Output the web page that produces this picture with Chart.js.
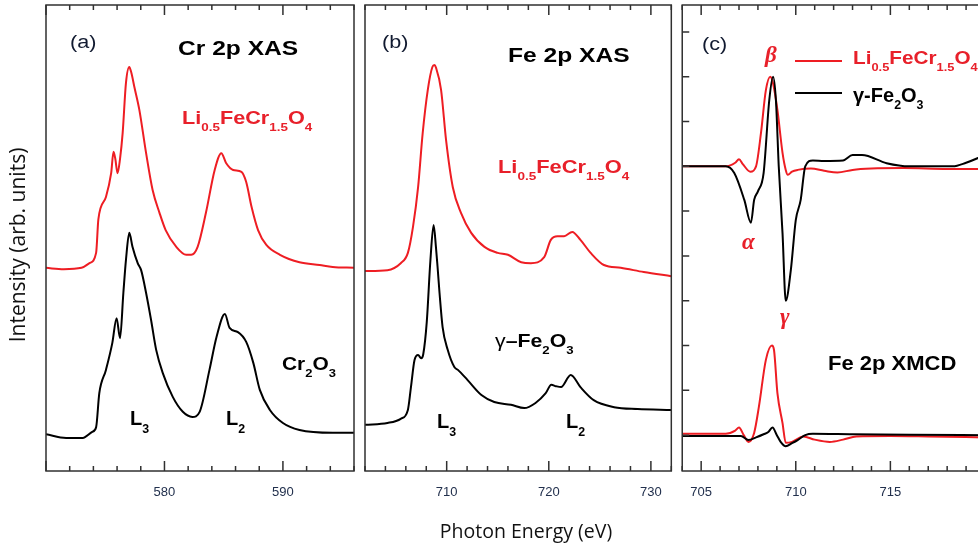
<!DOCTYPE html>
<html><head><meta charset="utf-8">
<script src="https://cdn.jsdelivr.net/npm/chart.js@4.4.0/dist/chart.umd.min.js"></script>
<style>
html,body{margin:0;padding:0;background:#fff;}
#wrap{position:relative;width:978px;height:547px;overflow:hidden;background:#fff;}
canvas{position:absolute;top:0;display:block;}
.t{position:absolute;line-height:1;white-space:nowrap;font-family:"Liberation Sans",Arial,sans-serif;transform-origin:0 0;color:#000;}
.b{font-weight:bold;}
.s{font-size:0.62em;position:relative;top:0.62em;}
.red{color:#e8202a;}
.g{font-family:"Liberation Serif","DejaVu Serif",serif;font-style:italic;font-weight:bold;}
.lab{color:#111a30;}
.ttl{position:absolute;font-family:"Open Sans",sans-serif;line-height:24px;height:24px;text-align:center;color:#111;white-space:nowrap;}
.leg{position:absolute;height:2px;}
</style></head>
<body><div id="wrap">
<canvas id="ca" width="360" height="547" style="left:0px"></canvas>
<canvas id="cb" width="316" height="547" style="left:360px"></canvas>
<canvas id="cc" width="324" height="547" style="left:676px"></canvas>

<div class="ttl" style="left:326px;top:519px;width:400px;font-size:19.5px;">Photon Energy (eV)</div>
<div class="ttl" style="left:-133px;top:233px;width:300px;font-size:21px;transform:rotate(-90deg);">Intensity (arb. units)</div>

<!-- panel (a) -->
<div class="t lab" style="left:70px;top:33px;font-size:18px;transform:scaleX(1.2);">(a)</div>
<div class="t b" style="left:178px;top:37.2px;font-size:21px;transform:scaleX(1.17);">Cr 2p XAS</div>
<div class="t b red" style="left:182px;top:107.9px;font-size:19px;transform:scaleX(1.14);">Li<span class="s">0.5</span>FeCr<span class="s">1.5</span>O<span class="s">4</span></div>
<div class="t b" style="left:282px;top:353.9px;font-size:19px;transform:scaleX(1.1);">Cr<span class="s">2</span>O<span class="s">3</span></div>
<div class="t b" style="left:130px;top:408.1px;font-size:20px;">L<span class="s">3</span></div>
<div class="t b" style="left:226px;top:408.1px;font-size:20px;">L<span class="s">2</span></div>

<!-- panel (b) -->
<div class="t lab" style="left:382px;top:33px;font-size:18px;transform:scaleX(1.2);">(b)</div>
<div class="t b" style="left:508px;top:44.2px;font-size:21px;transform:scaleX(1.17);">Fe 2p XAS</div>
<div class="t b red" style="left:498px;top:156.9px;font-size:19px;transform:scaleX(1.15);">Li<span class="s">0.5</span>FeCr<span class="s">1.5</span>O<span class="s">4</span></div>
<div class="t" style="left:495px;top:330.9px;font-size:19px;transform:scaleX(1.12);"><span>γ</span><span class="b">–Fe<span class="s">2</span>O<span class="s">3</span></span></div>
<div class="t b" style="left:437px;top:411.1px;font-size:20px;">L<span class="s">3</span></div>
<div class="t b" style="left:566px;top:411.1px;font-size:20px;">L<span class="s">2</span></div>

<!-- panel (c) -->
<div class="t lab" style="left:702px;top:35px;font-size:18px;transform:scaleX(1.2);">(c)</div>
<div class="t g red" style="left:765px;top:42.6px;font-size:23px;">β</div>
<div class="leg" style="left:795px;top:60px;width:47px;background:#ee1d23;"></div>
<div class="t b red" style="left:853px;top:49.3px;font-size:18.5px;transform:scaleX(1.12);">Li<span class="s">0.5</span>FeCr<span class="s">1.5</span>O<span class="s">4</span></div>
<div class="leg" style="left:795px;top:92px;width:47px;background:#000;"></div>
<div class="t b" style="left:853px;top:84.8px;font-size:20px;">γ-Fe<span class="s">2</span>O<span class="s">3</span></div>
<div class="t g red" style="left:742px;top:229.6px;font-size:23px;">α</div>
<div class="t g red" style="left:780px;top:304.6px;font-size:23px;">γ</div>
<div class="t b" style="left:828px;top:353.1px;font-size:20px;transform:scaleX(1.1);">Fe 2p XMCD</div>
</div>

<script>
// ---------- DATA ----------
// x tick labels
const TICKS_A = [580, 590];
const TICKS_B = [710, 720, 730];
const TICKS_C = [705, 710, 715];
const YTICKS_C = [-6, -5, -4, -3, -2, -1, 0, 1, 2, 3];

// (a) Cr 2p XAS  [photon energy eV, intensity]
const cr2p_LiFeCr = [[570.0,4.36],[571.5,4.33],[573.0,4.36],[573.67,4.46],[574.23,4.68],[574.42,5.4],[575.06,5.88],[575.5,6.39],[575.7,6.85],[575.85,6.7],[576.04,6.39],[576.25,6.7],[576.47,7.25],[576.75,8.33],[577.03,8.67],[577.2,8.55],[577.46,8.24],[577.88,7.75],[578.45,6.82],[579.0,6.03],[579.58,5.54],[580.1,5.17],[581.0,4.81],[581.84,4.64],[582.26,4.64],[582.8,4.81],[583.5,5.54],[584.24,6.46],[584.8,6.82],[585.2,6.61],[585.8,6.46],[586.5,6.42],[586.9,6.2],[587.35,5.67],[587.9,5.17],[588.6,4.85],[589.75,4.64],[591.4,4.48],[593.1,4.42],[594.2,4.38],[596.0,4.36]];
const cr2p_Cr2O3 = [[570.0,0.79],[571.7,0.71],[573.1,0.71],[573.9,0.84],[574.23,0.94],[574.5,1.67],[575.06,2.17],[575.6,2.75],[575.96,3.28],[576.25,2.85],[576.53,3.82],[576.75,4.53],[577.03,5.11],[577.3,4.81],[577.74,4.46],[578.03,4.31],[578.45,3.82],[578.87,3.24],[579.3,2.6],[579.86,2.1],[580.7,1.59],[581.55,1.27],[582.35,1.16],[582.97,1.27],[583.8,2.17],[584.4,2.88],[585.1,3.37],[585.5,3.07],[586.2,2.98],[586.9,2.77],[587.5,2.32],[588.05,1.74],[588.9,1.31],[590.0,1.03],[591.4,0.88],[594.2,0.82],[596.0,0.82]];

// (b) Fe 2p XAS
const fe2p_LiFeCr = [[702.0,4.29],[704.2,4.31],[705.5,4.46],[706.2,4.68],[706.7,5.24],[707.2,6.09],[707.65,7.25],[708.15,8.18],[708.6,8.67],[708.8,8.71],[708.96,8.65],[709.45,8.18],[709.94,7.1],[710.6,6.09],[711.4,5.54],[712.4,5.11],[713.7,4.81],[715.0,4.68],[716.0,4.64],[717.3,4.48],[718.25,4.46],[719.55,4.59],[720.2,4.96],[720.85,5.04],[721.5,5.04],[722.3,5.13],[723.1,4.96],[724.1,4.68],[725.4,4.42],[727.05,4.36],[729.3,4.27],[732.0,4.18]];
const fe2p_Fe2O3 = [[702.0,0.99],[704.2,1.03],[705.5,1.12],[706.2,1.31],[706.5,1.8],[706.85,2.38],[707.2,2.49],[707.5,2.42],[707.7,2.5],[708.05,3.2],[708.4,4.5],[708.72,5.28],[708.95,4.8],[709.1,4.4],[709.3,3.82],[709.6,3.09],[710.1,2.6],[710.75,2.23],[711.1,2.17],[712.05,1.95],[713.4,1.63],[714.66,1.48],[716.3,1.42],[717.6,1.35],[718.7,1.46],[719.7,1.67],[720.25,1.85],[720.7,1.82],[721.2,1.8],[722.15,2.06],[723.1,1.8],[724.4,1.52],[726.4,1.37],[728.7,1.33],[732.0,1.31]];

// (c) upper curves (baseline 0) and Fe 2p XMCD (baseline -6)
const c_upper_LiFeCr = [[704.0,0],[706.3,0],[706.8,0.08],[707.0,0.16],[707.2,0.05],[707.6,-0.12],[707.9,0.0],[708.16,0.74],[708.42,1.7],[708.65,2.0],[708.8,1.85],[709.03,1.26],[709.3,0.3],[709.47,-0.08],[709.58,-0.19],[709.8,-0.12],[710.1,-0.08],[710.8,-0.05],[711.5,-0.1],[712.2,-0.14],[713.0,-0.08],[714.0,-0.05],[715.7,-0.04],[718.0,-0.06],[720.0,-0.06]];
const c_upper_Fe2O3 = [[704.0,0],[706.3,0],[706.75,-0.15],[707.28,-0.75],[707.63,-1.26],[707.8,-0.75],[708.0,-0.56],[708.3,-0.15],[708.6,1.48],[708.8,2.0],[708.95,1.48],[709.1,0.0],[709.3,-1.49],[709.47,-3.0],[709.74,-2.31],[710.0,-1.2],[710.26,-0.75],[710.5,0.0],[710.9,0.13],[711.5,0.12],[712.5,0.13],[713.0,0.25],[713.5,0.25],[714.8,0.07],[716.0,0.0],[718.3,0.0],[719.0,0.08],[719.6,0.18],[720.0,0.26]];
const c_xmcd_LiFeCr = [[704.0,-5.97],[706.3,-5.97],[706.8,-5.9],[707.0,-5.83],[707.25,-6.0],[707.5,-6.15],[707.8,-5.95],[708.05,-5.37],[708.42,-4.32],[708.74,-4.0],[708.85,-4.1],[709.03,-5.06],[709.3,-5.73],[709.47,-6.17],[709.8,-6.15],[710.4,-6.03],[711.0,-6.1],[711.8,-6.15],[712.5,-6.1],[713.2,-6.03],[715.0,-6.02],[717.0,-6.03],[720.0,-6.05]];
const c_xmcd_Fe2O3 = [[704.0,-6.02],[707.1,-6.02],[707.5,-6.11],[707.9,-6.05],[708.3,-5.98],[708.55,-5.93],[708.77,-5.83],[709.0,-6.0],[709.2,-6.15],[709.47,-6.25],[709.8,-6.18],[710.1,-6.11],[710.5,-6.0],[710.9,-5.97],[713.0,-5.98],[716.0,-5.99],[720.0,-6.0]];

// ---------- CHART ----------
const RED = '#ee1d23', BLACK = '#000000';
const pts = arr => arr.map(p => ({x: p[0], y: p[1]}));
const ds = (arr, color) => ({data: pts(arr), borderColor: color, borderWidth: 2, pointRadius: 0, fill: false, cubicInterpolationMode: 'monotone'});

const framePlugin = {
  id: 'frame',
  afterDatasetsDraw(chart, args, o) {
    const {ctx, chartArea: ca, scales: {x, y}} = chart;
    ctx.save();
    ctx.strokeStyle = '#303030';
    ctx.lineWidth = 1.5;
    ctx.beginPath();
    const n0 = Math.ceil(x.min / o.minor - 1e-9), n1 = Math.floor(x.max / o.minor + 1e-9);
    for (let n = n0; n <= n1; n++) {
      const v = n * o.minor;
      const px = x.getPixelForValue(v);
      const major = Math.abs(v / o.major - Math.round(v / o.major)) < 1e-6;
      const len = major ? 10 : 5;
      ctx.moveTo(px, ca.bottom); ctx.lineTo(px, ca.bottom - len);
      ctx.moveTo(px, ca.top); ctx.lineTo(px, ca.top + len);
    }
    (o.yTicks || []).forEach(v => {
      const py = y.getPixelForValue(v);
      ctx.moveTo(ca.left, py); ctx.lineTo(ca.left + 7, py);
    });
    ctx.stroke();
    ctx.strokeRect(ca.left, ca.top, ca.right - ca.left, ca.bottom - ca.top);
    ctx.restore();
  }
};

function panel(id, datasets, xr, yr, labels, minor, major, pad, yTicks) {
  return new Chart(document.getElementById(id), {
    type: 'line',
    data: {datasets},
    options: {
      responsive: false, animation: false, devicePixelRatio: 1,
      layout: {padding: pad},
      plugins: {legend: {display: false}, tooltip: {enabled: false}, frame: {minor, major, yTicks}},
      scales: {
        x: {
          type: 'linear', min: xr[0], max: xr[1],
          grid: {display: false, drawTicks: false, tickLength: 0},
          border: {display: false},
          ticks: {font: {family: 'Liberation Sans', size: 13}, color: '#22304d', padding: 14, maxRotation: 0, autoSkip: false},
          afterBuildTicks: s => { s.ticks = labels.map(v => ({value: v})); },
          afterFit: s => { s.height = 76; }
        },
        y: {display: false, min: yr[0], max: yr[1]}
      }
    },
    plugins: [framePlugin]
  });
}

panel('ca', [ds(cr2p_LiFeCr, RED), ds(cr2p_Cr2O3, BLACK)], [570, 596], [0, 10], TICKS_A, 2, 10, {left: 46, right: 6, top: 5, bottom: 0});
panel('cb', [ds(fe2p_LiFeCr, RED), ds(fe2p_Fe2O3, BLACK)], [702, 732], [0, 10], TICKS_B, 2, 10, {left: 5, right: 4, top: 5, bottom: 0});
panel('cc', [ds(c_upper_Fe2O3, BLACK), ds(c_xmcd_Fe2O3, BLACK), ds(c_upper_LiFeCr, RED), ds(c_xmcd_LiFeCr, RED)], [704, 720], [-6.8, 3.6], TICKS_C, 1, 5, {left: 5, right: 15, top: 5, bottom: 0}, YTICKS_C);
</script>
</body></html>
